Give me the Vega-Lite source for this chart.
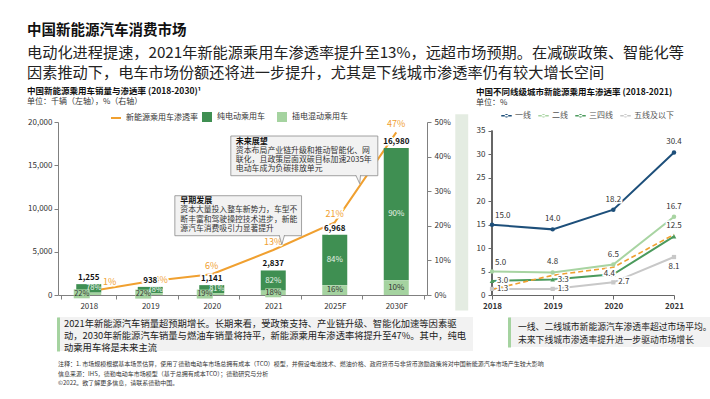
{
  "$schema": "https://vega.github.io/schema/vega-lite/v6.json",
  "padding": {"left": 27, "top": 22, "right": 4, "bottom": 0},
  "background": "white",
  "title": {
    "text": "中国新能源汽车消费市场",
    "subtitle": ["电动化进程提速，2021年新能源乘用车渗透率提升至13%，远超市场预期。在减碳政策、智能化等", "因素推动下，电车市场份额还将进一步提升，尤其是下线城市渗透率仍有较大增长空间"],
    "anchor": "start", "frame": "bounds", "fontSize": 14.5, "fontWeight": "bold", "color": "#111",
    "subtitleFontSize": 15.2, "subtitleColor": "#222", "subtitleLineHeight": 20, "subtitlePadding": 8, "offset": 4
  },
  "spacing": 6,
  "datasets": {
    "bars": [
      {"year": "2018", "type": "纯电动乘用车", "value": 979, "share": 0.78},
      {"year": "2018", "type": "插电混动乘用车", "value": 276, "share": 0.22},
      {"year": "2019", "type": "纯电动乘用车", "value": 732, "share": 0.78},
      {"year": "2019", "type": "插电混动乘用车", "value": 206, "share": 0.22},
      {"year": "2020", "type": "纯电动乘用车", "value": 924, "share": 0.81},
      {"year": "2020", "type": "插电混动乘用车", "value": 217, "share": 0.19},
      {"year": "2021", "type": "纯电动乘用车", "value": 2326, "share": 0.82},
      {"year": "2021", "type": "插电混动乘用车", "value": 511, "share": 0.18},
      {"year": "2025F", "type": "纯电动乘用车", "value": 5853, "share": 0.84},
      {"year": "2025F", "type": "插电混动乘用车", "value": 1115, "share": 0.16},
      {"year": "2030F", "type": "纯电动乘用车", "value": 15282, "share": 0.90},
      {"year": "2030F", "type": "插电混动乘用车", "value": 1698, "share": 0.10}
    ],
    "totals": [
      {"year": "2018", "total": 1255, "rate": 0.01},
      {"year": "2019", "total": 938, "rate": 0.04},
      {"year": "2020", "total": 1141, "rate": 0.06},
      {"year": "2021", "total": 2837, "rate": 0.13},
      {"year": "2025F", "total": 6968, "rate": 0.21},
      {"year": "2030F", "total": 16980, "rate": 0.47}
    ],
    "cities": [
      {"year": "2018", "tier": "一线", "value": 15.0},
      {"year": "2019", "tier": "一线", "value": 14.0},
      {"year": "2020", "tier": "一线", "value": 18.2},
      {"year": "2021", "tier": "一线", "value": 30.4},
      {"year": "2018", "tier": "二线", "value": 5.0},
      {"year": "2019", "tier": "二线", "value": 4.8},
      {"year": "2020", "tier": "二线", "value": 6.5},
      {"year": "2021", "tier": "二线", "value": 16.7},
      {"year": "2018", "tier": "三四线", "value": 3.0},
      {"year": "2019", "tier": "三四线", "value": 3.3},
      {"year": "2020", "tier": "三四线", "value": 4.4},
      {"year": "2021", "tier": "三四线", "value": 12.5},
      {"year": "2018", "tier": "五线及以下", "value": 1.3},
      {"year": "2019", "tier": "五线及以下", "value": 1.3},
      {"year": "2020", "tier": "五线及以下", "value": 2.7},
      {"year": "2021", "tier": "五线及以下", "value": 8.1},
      {"year": "2018", "tier": "市场平均", "value": 1.2},
      {"year": "2019", "tier": "市场平均", "value": 4.2},
      {"year": "2020", "tier": "市场平均", "value": 5.9},
      {"year": "2021", "tier": "市场平均", "value": 12.9}
    ]
  },
  "vconcat": [
    {
      "spacing": 7,
      "resolve": {"scale": {"x": "independent", "y": "independent", "color": "independent", "stroke": "independent", "opacity": "independent"}, "legend": {"color": "independent", "stroke": "independent"}},
      "hconcat": [
        {
          "width": 369, "height": 173,
          "title": {"text": "中国新能源乘用车销量与渗透率 (2018-2030)¹", "subtitle": "单位：千辆（左轴），%（右轴）", "anchor": "start", "frame": "bounds", "fontSize": 8.5, "fontWeight": "bold", "color": "#111", "subtitleFontSize": 8, "subtitleColor": "#333", "subtitlePadding": 3, "offset": 6},
          "resolve": {"scale": {"x": "independent", "y": "independent"}},
          "layer": [
            {
              "data": {"name": "totals"},
              "encoding": {
                "x": {"field": "year", "type": "nominal", "scale": {"type": "point", "domain": ["2018", "2019", "2020", "2021", "2025F", "2030F"], "padding": 0.5}, "axis": null},
                "y": {"field": "rate", "type": "quantitative", "scale": {"domain": [0, 0.5], "nice": false}, "axis": {"orient": "right", "title": null, "values": [0, 0.1, 0.2, 0.3, 0.4, 0.5], "format": ".0%", "labelFontSize": 8, "labelColor": "#333", "domainColor": "#808080", "tickColor": "#808080", "tickSize": 4, "labelPadding": 3, "grid": false}}
              },
              "layer": [
                {"mark": {"type": "line", "strokeWidth": 2}, "encoding": {"stroke": {"datum": "新能源乘用车渗透率", "type": "nominal", "scale": {"range": ["#F0A030"]}, "legend": {"orient": "none", "legendX": 52, "legendY": -10, "title": null, "symbolType": "stroke", "symbolStrokeWidth": 2, "symbolSize": 100, "labelFontSize": 8, "labelColor": "#333", "labelOffset": 4, "padding": 0}}}},
                {"transform": [{"filter": "datum.year === '2018'"}], "mark": {"type": "text", "fontSize": 9, "dx": 21, "dy": -10, "color": "white", "stroke": "white", "strokeWidth": 3}, "encoding": {"text": {"field": "rate", "format": ".0%"}}},
                {"transform": [{"filter": "datum.year === '2018'"}], "mark": {"type": "text", "fontSize": 9, "dx": 21, "dy": -10, "color": "#F0A030"}, "encoding": {"text": {"field": "rate", "format": ".0%"}}},
                {"transform": [{"filter": "datum.year === '2019'"}], "mark": {"type": "text", "fontSize": 9, "dx": 11, "dy": -1, "color": "white", "stroke": "white", "strokeWidth": 3}, "encoding": {"text": {"field": "rate", "format": ".0%"}}},
                {"transform": [{"filter": "datum.year === '2019'"}], "mark": {"type": "text", "fontSize": 9, "dx": 11, "dy": -1, "color": "#F0A030"}, "encoding": {"text": {"field": "rate", "format": ".0%"}}},
                {"transform": [{"filter": "datum.year !== '2018' && datum.year !== '2019'"}], "mark": {"type": "text", "fontSize": 9, "dy": -8, "color": "white", "stroke": "white", "strokeWidth": 3}, "encoding": {"text": {"field": "rate", "format": ".0%"}}},
                {"transform": [{"filter": "datum.year !== '2018' && datum.year !== '2019'"}], "mark": {"type": "text", "fontSize": 9, "dy": -8, "color": "#F0A030"}, "encoding": {"text": {"field": "rate", "format": ".0%"}}}
              ]
            },
            {
              "data": {"name": "bars"},
              "encoding": {
                "x": {"field": "year", "type": "nominal", "scale": {"type": "band", "domain": ["2018", "2019", "2020", "2021", "2025F", "2030F"], "paddingInner": 0.1, "paddingOuter": 0.05}, "axis": {"title": null, "labelAngle": 0, "labelFontSize": 8, "labelColor": "#333", "domainColor": "#808080", "tickColor": "#808080", "tickBand": "extent", "tickSize": 4, "labelPadding": 3}}
              },
              "layer": [
                {"mark": {"type": "bar", "width": 25}, "encoding": {
                  "y": {"field": "value", "type": "quantitative", "stack": "zero", "scale": {"domain": [0, 20000], "nice": false}, "axis": {"title": null, "values": [0, 5000, 10000, 15000, 20000], "labelExpr": "format(datum.value, ',')", "labelFontSize": 8, "labelColor": "#333", "domainColor": "#808080", "tickColor": "#808080", "tickSize": 4, "labelPadding": 2, "minExtent": 31, "grid": false}},
                  "color": {"field": "type", "type": "nominal", "scale": {"domain": ["纯电动乘用车", "插电混动乘用车"], "range": ["#3F8F52", "#A5D3A0"]}, "legend": {"orient": "none", "legendX": 144, "legendY": -10, "direction": "horizontal", "title": null, "symbolType": "square", "symbolSize": 100, "symbolStrokeWidth": 0, "labelFontSize": 8, "labelColor": "#333", "labelOffset": 5, "columnPadding": 12, "padding": 0}},
                  "order": {"field": "type", "type": "nominal", "sort": "ascending"}
                }},
                {"transform": [{"filter": "datum.year === '2018' || datum.year === '2019' || datum.year === '2020'"}], "mark": {"type": "point", "shape": "M-1.875,-0.5625H0.125V0.5625H-1.875Z", "size": 256, "filled": true, "fill": "#A5D3A0", "strokeWidth": 0}, "encoding": {
                  "y": {"field": "value", "type": "quantitative", "stack": "zero", "bandPosition": 0.5, "scale": {"domain": [0, 20000], "nice": false}, "axis": {"title": null, "values": [0, 5000, 10000, 15000, 20000], "labelExpr": "format(datum.value, ',')", "labelFontSize": 8, "labelColor": "#333", "domainColor": "#808080", "tickColor": "#808080", "tickSize": 4, "labelPadding": 2, "minExtent": 31, "grid": false}},
                  "detail": {"field": "type", "type": "nominal"}, "order": {"field": "type", "type": "nominal", "sort": "ascending"},
                  "opacity": {"condition": {"test": "datum.type === '插电混动乘用车'", "value": 1}, "value": 0}
                }},
                {"transform": [{"filter": "datum.year === '2021'"}], "mark": {"type": "point", "shape": "M-1,-0.5625H1V0.5625H-1Z", "size": 256, "filled": true, "fill": "#A5D3A0", "strokeWidth": 0}, "encoding": {
                  "y": {"field": "value", "type": "quantitative", "stack": "zero", "bandPosition": 0.5, "scale": {"domain": [0, 20000], "nice": false}, "axis": {"title": null, "values": [0, 5000, 10000, 15000, 20000], "labelExpr": "format(datum.value, ',')", "labelFontSize": 8, "labelColor": "#333", "domainColor": "#808080", "tickColor": "#808080", "tickSize": 4, "labelPadding": 2, "minExtent": 31, "grid": false}},
                  "detail": {"field": "type", "type": "nominal"}, "order": {"field": "type", "type": "nominal", "sort": "ascending"},
                  "opacity": {"condition": {"test": "datum.type === '插电混动乘用车'", "value": 1}, "value": 0}
                }},
                {"transform": [{"filter": "datum.year === '2018' || datum.year === '2019' || datum.year === '2020'"}], "mark": {"type": "text", "fontSize": 7.5, "dx": 5, "color": "#F2F8F2"}, "encoding": {
                  "y": {"field": "value", "type": "quantitative", "stack": "zero", "bandPosition": 0.5, "scale": {"domain": [0, 20000], "nice": false}, "axis": {"title": null, "values": [0, 5000, 10000, 15000, 20000], "labelExpr": "format(datum.value, ',')", "labelFontSize": 8, "labelColor": "#333", "domainColor": "#808080", "tickColor": "#808080", "tickSize": 4, "labelPadding": 2, "minExtent": 31, "grid": false}},
                  "detail": {"field": "type", "type": "nominal"}, "order": {"field": "type", "type": "nominal", "sort": "ascending"},
                  "text": {"condition": {"test": "datum.type === '纯电动乘用车'", "field": "share", "type": "quantitative", "format": ".0%"}, "value": ""}
                }},
                {"transform": [{"filter": "datum.year === '2021' || datum.year === '2025F' || datum.year === '2030F'"}], "mark": {"type": "text", "fontSize": 8, "color": "#E6F2E6"}, "encoding": {
                  "y": {"field": "value", "type": "quantitative", "stack": "zero", "bandPosition": 0.5, "scale": {"domain": [0, 20000], "nice": false}, "axis": {"title": null, "values": [0, 5000, 10000, 15000, 20000], "labelExpr": "format(datum.value, ',')", "labelFontSize": 8, "labelColor": "#333", "domainColor": "#808080", "tickColor": "#808080", "tickSize": 4, "labelPadding": 2, "minExtent": 31, "grid": false}},
                  "detail": {"field": "type", "type": "nominal"}, "order": {"field": "type", "type": "nominal", "sort": "ascending"},
                  "text": {"condition": {"test": "datum.type === '纯电动乘用车'", "field": "share", "type": "quantitative", "format": ".0%"}, "value": ""}
                }},
                {"transform": [{"filter": "datum.year === '2018' || datum.year === '2019' || datum.year === '2020'"}], "mark": {"type": "text", "fontSize": 7.5, "dx": -7, "color": "#333"}, "encoding": {
                  "y": {"field": "value", "type": "quantitative", "stack": "zero", "bandPosition": 0.5, "scale": {"domain": [0, 20000], "nice": false}, "axis": {"title": null, "values": [0, 5000, 10000, 15000, 20000], "labelExpr": "format(datum.value, ',')", "labelFontSize": 8, "labelColor": "#333", "domainColor": "#808080", "tickColor": "#808080", "tickSize": 4, "labelPadding": 2, "minExtent": 31, "grid": false}},
                  "detail": {"field": "type", "type": "nominal"}, "order": {"field": "type", "type": "nominal", "sort": "ascending"},
                  "text": {"condition": {"test": "datum.type === '插电混动乘用车'", "field": "share", "type": "quantitative", "format": ".0%"}, "value": ""}
                }},
                {"transform": [{"filter": "datum.year === '2021' || datum.year === '2025F' || datum.year === '2030F'"}], "mark": {"type": "text", "fontSize": 8, "color": "#333"}, "encoding": {
                  "y": {"field": "value", "type": "quantitative", "stack": "zero", "bandPosition": 0.5, "scale": {"domain": [0, 20000], "nice": false}, "axis": {"title": null, "values": [0, 5000, 10000, 15000, 20000], "labelExpr": "format(datum.value, ',')", "labelFontSize": 8, "labelColor": "#333", "domainColor": "#808080", "tickColor": "#808080", "tickSize": 4, "labelPadding": 2, "minExtent": 31, "grid": false}},
                  "detail": {"field": "type", "type": "nominal"}, "order": {"field": "type", "type": "nominal", "sort": "ascending"},
                  "text": {"condition": {"test": "datum.type === '插电混动乘用车'", "field": "share", "type": "quantitative", "format": ".0%"}, "value": ""}
                }}
              ]
            },
            {
              "data": {"name": "totals"},
              "encoding": {
                "x": {"field": "year", "type": "nominal", "scale": {"type": "point", "domain": ["2018", "2019", "2020", "2021", "2025F", "2030F"], "padding": 0.5}, "axis": null},
                "y": {"field": "total", "type": "quantitative", "scale": {"domain": [0, 20000], "nice": false}, "axis": null},
                "text": {"field": "total", "type": "quantitative", "format": ","}
              },
              "layer": [
                {"mark": {"type": "text", "fontSize": 8, "fontWeight": "bold", "baseline": "bottom", "dy": -2, "color": "white", "stroke": "white", "strokeWidth": 3}},
                {"mark": {"type": "text", "fontSize": 8, "fontWeight": "bold", "baseline": "bottom", "dy": -2, "color": "#111"}}
              ]
            },
            {
              "data": {"values": [{}]},
              "layer": [
                {"mark": {"type": "rect", "fill": "#E4ECE2"}, "encoding": {
                  "x": {"datum": 6.46, "type": "quantitative", "scale": {"domain": [0, 6], "nice": false, "zero": false}, "axis": null}, "x2": {"datum": 6.67},
                  "y": {"datum": 20900, "type": "quantitative", "scale": {"domain": [0, 20000], "nice": false}, "axis": null}, "y2": {"datum": -1800}}},
                {"mark": {"type": "rect", "fill": "#F2F2F2", "stroke": "#8C8C8C", "strokeWidth": 0.8}, "encoding": {
                  "x": {"datum": 1.9, "type": "quantitative", "scale": {"domain": [0, 6], "nice": false, "zero": false}, "axis": null}, "x2": {"datum": 3.96},
                  "y": {"datum": 11479, "type": "quantitative", "scale": {"domain": [0, 20000], "nice": false}, "axis": null}, "y2": {"datum": 6855}}},
                {"mark": {"type": "point", "shape": "M-0.6,-1.15L0,1L0.6,-1.15", "size": 81, "filled": true, "fill": "#F2F2F2", "stroke": "#8C8C8C", "strokeWidth": 0.8, "opacity": 1}, "encoding": {
                  "x": {"datum": 3.64, "type": "quantitative", "scale": {"domain": [0, 6], "nice": false, "zero": false}, "axis": null},
                  "y": {"datum": 6335, "type": "quantitative", "scale": {"domain": [0, 20000], "nice": false}, "axis": null}}},
                {"mark": {"type": "text", "align": "left", "baseline": "top", "dx": 5.5, "dy": 1.5, "fontSize": 8, "fontWeight": "bold", "color": "#111"}, "encoding": {
                  "x": {"datum": 1.9, "type": "quantitative", "scale": {"domain": [0, 6], "nice": false, "zero": false}, "axis": null},
                  "y": {"datum": 11479, "type": "quantitative", "scale": {"domain": [0, 20000], "nice": false}, "axis": null},
                  "text": {"value": "早期发展"}}},
                {"mark": {"type": "text", "align": "left", "baseline": "top", "dx": 5.5, "dy": 10.5, "fontSize": 7.8, "lineHeight": 9.4, "color": "#333"}, "encoding": {
                  "x": {"datum": 1.9, "type": "quantitative", "scale": {"domain": [0, 6], "nice": false, "zero": false}, "axis": null},
                  "y": {"datum": 11479, "type": "quantitative", "scale": {"domain": [0, 20000], "nice": false}, "axis": null},
                  "text": {"value": ["资本大量投入整车新势力，车型不", "断丰富和驾驶操控技术进步，新能", "源汽车消费吸引力显著提升"]}}},
                {"mark": {"type": "rect", "fill": "#F2F2F2", "stroke": "#8C8C8C", "strokeWidth": 0.8}, "encoding": {
                  "x": {"datum": 2.81, "type": "quantitative", "scale": {"domain": [0, 6], "nice": false, "zero": false}, "axis": null}, "x2": {"datum": 5.2},
                  "y": {"datum": 18380, "type": "quantitative", "scale": {"domain": [0, 20000], "nice": false}, "axis": null}, "y2": {"datum": 13791}}},
                {"mark": {"type": "point", "shape": "M-0.6,-1.15L0.4,1L0.6,-1.15", "size": 64, "filled": true, "fill": "#F2F2F2", "stroke": "#8C8C8C", "strokeWidth": 0.8, "opacity": 1}, "encoding": {
                  "x": {"datum": 4.88, "type": "quantitative", "scale": {"domain": [0, 6], "nice": false, "zero": false}, "axis": null},
                  "y": {"datum": 13330, "type": "quantitative", "scale": {"domain": [0, 20000], "nice": false}, "axis": null}}},
                {"mark": {"type": "text", "align": "left", "baseline": "top", "dx": 5, "dy": 1.5, "fontSize": 8, "fontWeight": "bold", "color": "#111"}, "encoding": {
                  "x": {"datum": 2.81, "type": "quantitative", "scale": {"domain": [0, 6], "nice": false, "zero": false}, "axis": null},
                  "y": {"datum": 18380, "type": "quantitative", "scale": {"domain": [0, 20000], "nice": false}, "axis": null},
                  "text": {"value": "未来展望"}}},
                {"mark": {"type": "text", "align": "left", "baseline": "top", "dx": 5, "dy": 10.5, "fontSize": 7.9, "lineHeight": 9.2, "color": "#333"}, "encoding": {
                  "x": {"datum": 2.81, "type": "quantitative", "scale": {"domain": [0, 6], "nice": false, "zero": false}, "axis": null},
                  "y": {"datum": 18380, "type": "quantitative", "scale": {"domain": [0, 20000], "nice": false}, "axis": null},
                  "text": {"value": ["资本布局产业链升级和推动智能化、网", "联化，且政策层面双碳目标加速2035年", "电动车成为负碳排放单元"]}}}
              ]
            }
          ]
        },
        {
          "width": 182, "height": 173,
          "title": {"text": "中国不同线级城市新能源乘用车渗透率 (2018-2021)", "subtitle": "单位：%", "anchor": "start", "frame": "bounds", "fontSize": 8.5, "fontWeight": "bold", "color": "#111", "subtitleFontSize": 8, "subtitleColor": "#333", "subtitlePadding": 3, "offset": 3},
          "data": {"name": "cities"},
          "encoding": {
            "x": {"field": "year", "type": "ordinal", "scale": {"type": "point", "padding": 0}, "axis": {"title": null, "labelAngle": 0, "labelFontSize": 8, "labelColor": "#333", "labelFontWeight": 600, "domainColor": "#666", "tickColor": "#666", "tickSize": 4, "labelPadding": 3}},
            "y": {"field": "value", "type": "quantitative", "scale": {"domain": [0, 36.9], "nice": false}, "axis": {"title": null, "values": [0, 5, 10, 15, 20, 25, 30, 35], "labelFontSize": 8, "labelColor": "#333", "domain": false, "tickColor": "#666", "tickSize": 4, "labelPadding": 3, "minExtent": 16, "grid": false}}
          },
          "layer": [
            {"mark": {"type": "rule", "color": "#666", "strokeWidth": 1}, "encoding": {"x": {"datum": "2018"}, "y": {"datum": 0}, "y2": {"datum": 35}}},
            {"transform": [{"filter": "datum.tier !== '市场平均'"}], "mark": {"type": "line", "strokeWidth": 2}, "encoding": {
              "color": {"field": "tier", "type": "nominal", "scale": {"domain": ["一线", "二线", "三四线", "五线及以下"], "range": ["#1D4F7A", "#A8D4A2", "#4B9A5C", "#C8C8C8"]}, "legend": {"orient": "none", "legendX": 9, "legendY": -12, "direction": "horizontal", "title": null, "symbolType": "M-1,-0.12H1V0.12H-1Z M-0.34,0A0.34,0.34 0 1 0 0.34,0A0.34,0.34 0 1 0 -0.34,0Z", "symbolSize": 110, "symbolStrokeWidth": 0, "labelFontSize": 8, "labelColor": "#555", "labelOffset": 3, "columnPadding": 7, "padding": 0, "encode": {"symbols": {"update": {"fill": {"scale": "color", "field": "value"}, "stroke": {"value": "transparent"}}}}}}
            }},
            {"transform": [{"filter": "datum.tier === '市场平均'"}], "mark": {"type": "line", "color": "#F0A030", "strokeWidth": 1.6, "strokeDash": [5, 3]}},
            {"transform": [{"filter": "datum.tier === '一线' || datum.tier === '二线'"}], "mark": {"type": "point", "shape": "circle", "filled": true, "size": 20, "opacity": 1}, "encoding": {"color": {"field": "tier", "type": "nominal"}}},
            {"transform": [{"filter": "datum.tier === '三四线'"}], "mark": {"type": "point", "shape": "triangle-up", "filled": true, "size": 22, "opacity": 1}, "encoding": {"color": {"field": "tier", "type": "nominal"}}},
            {"transform": [{"filter": "datum.tier === '五线及以下'"}], "mark": {"type": "point", "shape": "square", "filled": true, "size": 18, "opacity": 1}, "encoding": {"color": {"field": "tier", "type": "nominal"}}},
            {"transform": [{"filter": "datum.year === '2018' && (datum.tier === '一线' || datum.tier === '二线')"}], "mark": {"type": "text", "fontSize": 8, "align": "left", "dx": 3, "dy": -9, "color": "white", "stroke": "white", "strokeWidth": 3}, "encoding": {"text": {"field": "value", "type": "quantitative", "format": ".1f"}}},
            {"transform": [{"filter": "datum.year === '2018' && (datum.tier === '一线' || datum.tier === '二线')"}], "mark": {"type": "text", "fontSize": 8, "align": "left", "dx": 3, "dy": -9, "color": "#333"}, "encoding": {"text": {"field": "value", "type": "quantitative", "format": ".1f"}}},
            {"transform": [{"filter": "(datum.tier === '三四线' && (datum.year === '2018' || datum.year === '2019')) || (datum.tier === '五线及以下' && datum.year !== '2021')"}], "mark": {"type": "text", "fontSize": 8, "align": "left", "dx": 5, "dy": 0, "color": "white", "stroke": "white", "strokeWidth": 3}, "encoding": {"text": {"field": "value", "type": "quantitative", "format": ".1f"}}},
            {"transform": [{"filter": "(datum.tier === '三四线' && (datum.year === '2018' || datum.year === '2019')) || (datum.tier === '五线及以下' && datum.year !== '2021')"}], "mark": {"type": "text", "fontSize": 8, "align": "left", "dx": 5, "dy": 0, "color": "#333"}, "encoding": {"text": {"field": "value", "type": "quantitative", "format": ".1f"}}},
            {"transform": [{"filter": "(datum.year !== '2018' && (datum.tier === '一线' || datum.tier === '二线')) || (datum.tier === '三四线' && datum.year === '2021')"}], "mark": {"type": "text", "fontSize": 8, "dy": -10, "color": "white", "stroke": "white", "strokeWidth": 3}, "encoding": {"text": {"field": "value", "type": "quantitative", "format": ".1f"}}},
            {"transform": [{"filter": "(datum.year !== '2018' && (datum.tier === '一线' || datum.tier === '二线')) || (datum.tier === '三四线' && datum.year === '2021')"}], "mark": {"type": "text", "fontSize": 8, "dy": -10, "color": "#333"}, "encoding": {"text": {"field": "value", "type": "quantitative", "format": ".1f"}}},
            {"transform": [{"filter": "datum.tier === '三四线' && datum.year === '2020'"}], "mark": {"type": "text", "fontSize": 8, "dx": -4, "dy": 0, "color": "white", "stroke": "white", "strokeWidth": 3}, "encoding": {"text": {"field": "value", "type": "quantitative", "format": ".1f"}}},
            {"transform": [{"filter": "datum.tier === '三四线' && datum.year === '2020'"}], "mark": {"type": "text", "fontSize": 8, "dx": -4, "dy": 0, "color": "#333"}, "encoding": {"text": {"field": "value", "type": "quantitative", "format": ".1f"}}},
            {"transform": [{"filter": "datum.tier === '五线及以下' && datum.year === '2021'"}], "mark": {"type": "text", "fontSize": 8, "dy": 10, "color": "#333"}, "encoding": {"text": {"field": "value", "type": "quantitative", "format": ".1f"}}}
          ]
        }
      ]
    },
    {
      "spacing": 36,
      "hconcat": [
        {
          "width": 415, "height": 34,
          "data": {"values": [
            {"line": 1, "text": "2021年新能源汽车销量超预期增长。长期来看，受政策支持、产业链升级、智能化加速等因素驱"},
            {"line": 2, "text": "动，2030年新能源汽车销量与燃油车销量将持平，新能源乘用车渗透率将提升至47%。其中，纯电"},
            {"line": 3, "text": "动乘用车将是未来主流"}
          ]},
          "mark": {"type": "text", "align": "left", "fontSize": 9.3, "color": "#222", "dx": 6, "dy": 2},
          "encoding": {
            "x": {"datum": 0, "type": "quantitative", "scale": {"domain": [0, 1]}, "axis": null},
            "y": {"field": "line", "type": "ordinal", "scale": {"type": "point", "padding": 0.42}, "axis": {"title": null, "labels": false, "ticks": false, "domainColor": "#A5D3A0", "domainWidth": 3}},
            "text": {"field": "text"}
          },
          "view": {"fill": "#F2F2F2", "stroke": null}
        },
        {
          "width": 218, "height": 30,
          "data": {"values": [
            {"line": 1, "text": "一线、二线城市新能源汽车渗透率超过市场平均。"},
            {"line": 2, "text": "未来下线城市渗透率提升进一步驱动市场增长"}
          ]},
          "mark": {"type": "text", "align": "left", "fontSize": 8.8, "color": "#222", "dx": 9, "dy": 1.5},
          "encoding": {
            "x": {"datum": 0, "type": "quantitative", "scale": {"domain": [0, 1]}, "axis": null},
            "y": {"field": "line", "type": "ordinal", "scale": {"type": "point", "padding": 0.654}, "axis": {"title": null, "labels": false, "ticks": false, "domainColor": "#A5D3A0", "domainWidth": 3}},
            "text": {"field": "text"}
          },
          "view": {"fill": "#F2F2F2", "stroke": null}
        }
      ]
    },
    {
      "width": 670, "height": 27,
      "layer": [
        {
          "data": {"values": [
            {"line": 1, "text": "注释：1. 市场规模根据基本场景估算，使用了德勤电动车市场总拥有成本（TCO）模型，并假设电池技术、燃油价格、政府货币与非货币激励政策将对中国新能源汽车市场产生较大影响"},
            {"line": 2, "text": "信息来源：IHS，德勤电动车市场模型（基于总拥有成本TCO）；德勤研究与分析"},
            {"line": 3, "text": "©2022。欲了解更多信息，请联系德勤中国。"}
          ]},
          "mark": {"type": "text", "align": "left", "fontSize": 6, "color": "#333"},
          "encoding": {
            "x": {"datum": 0, "type": "quantitative", "scale": {"domain": [0, 1]}, "axis": null},
            "y": {"field": "line", "type": "ordinal", "scale": {"type": "point", "padding": 0.42}, "axis": null},
            "text": {"field": "text"}
          }
        },
        {
          "data": {"values": [{"line": 3, "text": "9"}]},
          "mark": {"type": "text", "align": "right", "fontSize": 6, "color": "#333"},
          "encoding": {
            "x": {"datum": 1, "type": "quantitative", "scale": {"domain": [0, 1]}, "axis": null},
            "y": {"field": "line", "type": "ordinal", "axis": null},
            "text": {"field": "text"}
          }
        }
      ]
    }
  ],
  "config": {
    "font": "Noto Sans CJK SC",
    "view": {"stroke": null},
    "axis": {"grid": false}
  }
}
